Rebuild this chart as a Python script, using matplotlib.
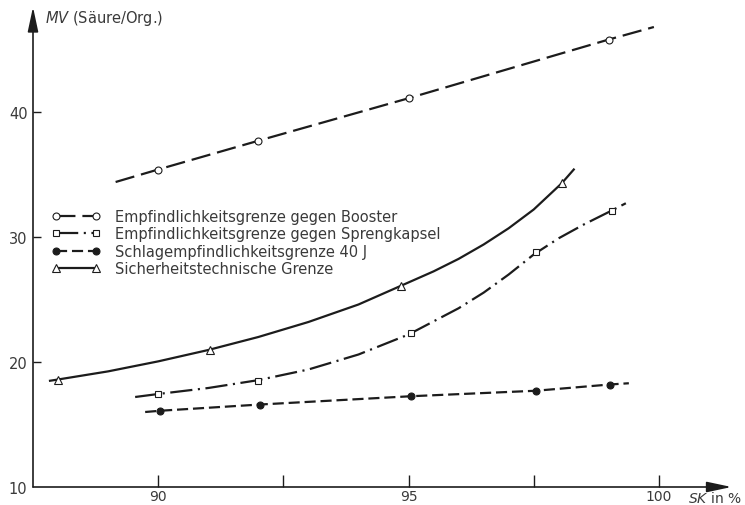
import matplotlib
matplotlib.use("Agg")
import matplotlib.pyplot as plt
from matplotlib.lines import Line2D

# values
booster_x = [90, 92, 95, 99]
booster_y = [35.4, 37.7, 41.1, 45.8]
booster_curve_x = [89.15, 90, 92, 95, 99, 99.9]
booster_curve_y = [34.4, 35.4, 37.7, 41.1, 45.8, 46.8]

spreng_x = [90, 92, 95.05, 97.55, 99.07]
spreng_y = [17.44, 18.5, 22.3, 28.8, 32.1]
spreng_curve_x = [89.54, 90, 91, 92, 93, 94, 95, 96, 96.5, 97, 97.5, 98, 98.5, 99, 99.34]
spreng_curve_y = [17.2, 17.44, 17.92, 18.55, 19.4, 20.6, 22.2, 24.3, 25.55, 27.0, 28.6, 29.9, 31.0, 32.0, 32.7]

schlag_x = [90.04, 92.04, 95.04, 97.54, 99.02]
schlag_y = [16.1, 16.6, 17.26, 17.7, 18.2]
schlag_curve_x = [89.74, 90.04, 92.04, 95.04, 97.54, 99.02, 99.4]
schlag_curve_y = [16.0, 16.1, 16.6, 17.26, 17.7, 18.2, 18.3]

sicher_x = [88.0, 91.04, 94.85, 98.06]
sicher_y = [18.6, 20.96, 26.1, 34.3]
sicher_curve_x = [87.84, 88.0, 89, 90, 91, 92, 93, 94, 94.85, 95.5, 96, 96.5, 97, 97.5, 98.06, 98.3]
sicher_curve_y = [18.5, 18.6, 19.25, 20.05, 20.96, 22.0, 23.2, 24.6, 26.1, 27.25, 28.25, 29.4, 30.7, 32.2, 34.3, 35.4]

labels = ["Empfindlichkeitsgrenze gegen Booster",
          "Empfindlichkeitsgrenze gegen Sprengkapsel",
          "Schlagempfindlichkeitsgrenze 40 J",
          "Sicherheitstechnische Grenze"]

x_ticks = [90, 92.5, 95, 97.5, 100]
x_ticklabels = ["90", "", "95", "", "100"]
y_ticks = [10, 20, 30, 40]

plt.rcParams["font.family"] = ["DejaVu Sans"]
plt.rcParams["lines.scale_dashes"] = False
ink = "#1c1c1c"
txt = "#3a3a3a"
lw = 1.6

fig = plt.figure(figsize=(7.45, 5.06), dpi=100)
ax = fig.add_axes([33 / 745, 18 / 506, 701 / 745, 482 / 506])
ax.set_xlim(87.5, 101.5)
ax.set_ylim(10, 48.56)

styles = [
    dict(ls=(0, (14, 5)), marker="o", mfc="white", ms=5),
    dict(ls=(0, (16, 4, 1.5, 4)), marker="s", mfc="white", ms=5),
    dict(ls=(0, (8, 3.5)), marker="o", mfc=ink, ms=5),
    dict(ls="-", marker="^", mfc="white", ms=5.5),
]
series = [
    (booster_curve_x, booster_curve_y, booster_x, booster_y),
    (spreng_curve_x, spreng_curve_y, spreng_x, spreng_y),
    (schlag_curve_x, schlag_curve_y, schlag_x, schlag_y),
    (sicher_curve_x, sicher_curve_y, sicher_x, sicher_y),
]

handles = []
for (cx, cy, mx, my), st in zip(series, styles):
    ax.plot(cx, cy, color=ink, lw=lw, linestyle=st["ls"], solid_joinstyle="round")
    ax.plot(mx, my, linestyle="none", marker=st["marker"], ms=st["ms"],
            mfc=st["mfc"], mec=ink, mew=0.8)
    handles.append(Line2D([], [], color=ink, lw=lw, linestyle=st["ls"],
                          marker=st["marker"], ms=st["ms"], mfc=st["mfc"],
                          mec=ink, mew=0.8))

leg = ax.legend(handles, labels, loc="upper left",
                bbox_to_anchor=(52 / 745, 1 - 210 / 506), bbox_transform=fig.transFigure,
                frameon=False, numpoints=2, handlelength=3.3, handletextpad=1.05,
                labelspacing=0.16, borderpad=0, borderaxespad=0, fontsize=10.5)
for t in leg.get_texts():
    t.set_color(txt)

# axes with arrow heads
for s in ax.spines.values():
    s.set_visible(False)
arrow = dict(arrowstyle="-|>,head_length=0.75,head_width=0.16", color=ink, lw=1.2,
             mutation_scale=20, shrinkA=0, shrinkB=0)
ax.annotate("", xy=(87.5, 48.4), xytext=(87.5, 10), arrowprops=arrow, annotation_clip=False)
ax.annotate("", xy=(101.45, 10), xytext=(87.5, 10), arrowprops=arrow, annotation_clip=False)

ax.set_xticks(x_ticks)
ax.set_xticklabels(x_ticklabels)
ax.set_yticks(y_ticks)
ax.tick_params(axis="x", direction="in", length=9, width=1, color=ink, pad=1.5,
               labelsize=10, labelcolor=txt)
ax.tick_params(axis="y", direction="in", length=6, width=1, color=ink, pad=4,
               labelsize=10.5, labelcolor=txt)
ax.yaxis.get_major_ticks()[0].tick1line.set_visible(False)

fig.text(45 / 745, 1 - 18 / 506, r"$\it{MV}$ (Säure/Org.)", fontsize=10.5, color=txt, va="center")
fig.text(688 / 745, 1 - 498.5 / 506, r"$\it{SK}$ in %", fontsize=10, color=txt, va="center")

fig.savefig("out.png", dpi=100, facecolor="white")
